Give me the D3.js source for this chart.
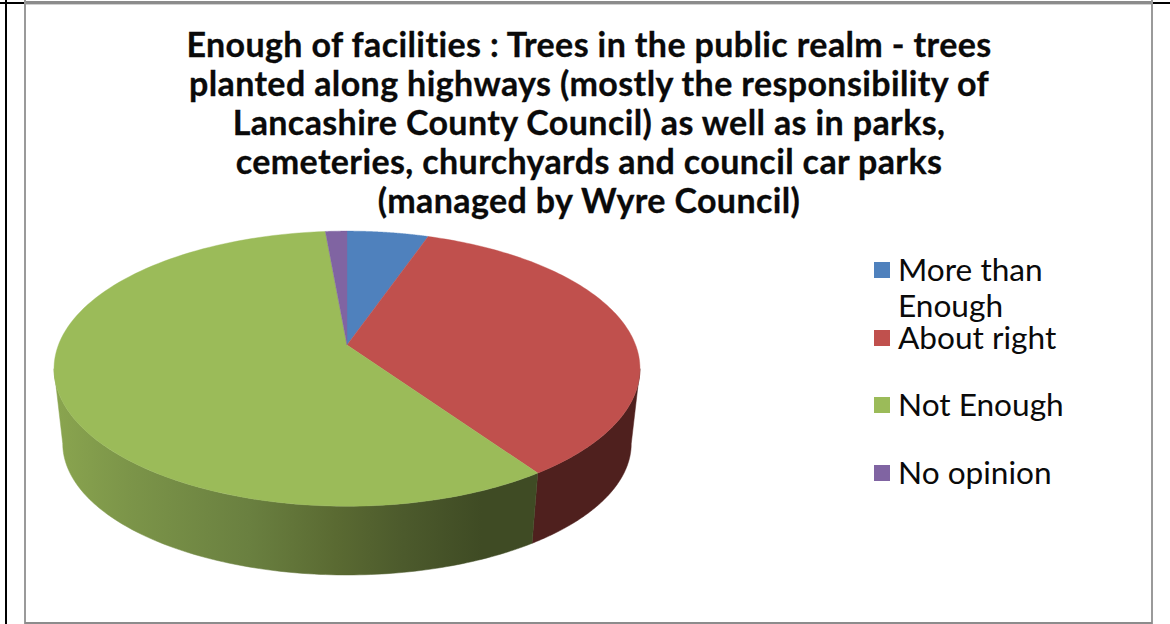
<!DOCTYPE html>
<html><head><meta charset="utf-8">
<script src="https://cdn.jsdelivr.net/npm/d3@7"></script>
<style>html,body{margin:0;padding:0;background:#fff;overflow:hidden}svg{display:block}
.t{font-family:"Lato",sans-serif;font-weight:700;font-size:34px;letter-spacing:.38px;fill:#0a0a0a;text-anchor:middle;stroke:#0a0a0a;stroke-width:.3px}
.l{font-family:"Lato",sans-serif;font-size:31.6px;fill:#0a0a0a}</style></head><body>
<svg id="c" width="1170" height="624"></svg>
<script>
const categories=["More than Enough","About right","Not Enough","No opinion"];
const legendLines=[["More than","Enough"],["About right"],["Not Enough"],["No opinion"]];
const seriesValues=[5.3,35.1,58.2,1.4];
const colors=["#4f81bd","#c0504d","#9bbb59","#8064a2"];
const titleLines=["Enough of facilities : Trees in the public realm - trees","planted along highways (mostly the responsibility of","Lancashire County Council) as well as in parks,","cemeteries, churchyards and council car parks","(managed by Wyre Council)"];
const legendY=[270,338,405,473];

const svg=d3.select("#c");
const defs=svg.append("defs");
const grad=defs.append("linearGradient").attr("id","gw").attr("gradientUnits","userSpaceOnUse").attr("x1",54).attr("x2",540).attr("y1",0).attr("y2",0);
[[0,"#8aa54f"],[0.15,"#7c9549"],[0.4,"#6a8040"],[0.58,"#5a6a32"],[0.72,"#4c5a2c"],[0.88,"#3f4b24"],[1,"#3f4b24"]].forEach(s=>grad.append("stop").attr("offset",s[0]).attr("stop-color",s[1]));

const k=0.172;
const pie=d3.pie().sort(null).startAngle(0).endAngle(2*Math.PI)(seriesValues);
function proj(a,cx,cy,R,A){const u=Math.sin(a),v=-Math.cos(a),w=1-k*v;return [cx+R*u/w,cy+A*v/w];}
const topRim=a=>proj(a,347,345,288.6,133.5), botRim=a=>proj(a,347,421,280,127.5);
const line=d3.line();
const samples=(a0,a1)=>d3.range(0,121).map(i=>a0+(a1-a0)*i/120);
const aStart=Math.PI/2+Math.asin(k), aEnd=3*Math.PI/2-Math.asin(k);

// side walls
pie.forEach((d,i)=>{
  const a0=Math.max(d.startAngle,aStart),a1=Math.min(d.endAngle,aEnd);
  if(a1<=a0)return;
  const s=samples(a0,a1);
  const pts=s.map(topRim).concat(s.slice().reverse().map(botRim));
  const c=i===2?"url(#gw)":"#4f201e";
  svg.append("path").attr("d",line(pts)+"Z").attr("fill",c).attr("stroke",c).attr("stroke-width",.5);
});
// top faces
pie.forEach((d,i)=>{
  const pts=[[347,345]].concat(samples(d.startAngle,d.endAngle).map(topRim));
  svg.append("path").attr("d",line(pts)+"Z").attr("fill",colors[i]).attr("stroke",colors[i]).attr("stroke-width",.4);
});

// frame
const F=(x,y,w,h,c)=>svg.append("rect").attr("x",x).attr("y",y).attr("width",w).attr("height",h).attr("fill",c);
F(0,2,25,2,"#000");F(1152,2,18,2,"#000");
F(5,0,2,624,"#000");
F(25,1,1127,3,"#8c8c8c");F(25,4,1127,1,"#d0d0d0");
F(24,0,2,624,"#9a9a9a");F(1151,0,2,624,"#9a9a9a");
F(25,622,1127,2,"#8c8c8c");

svg.selectAll(".t").data(titleLines).join("text").attr("class","t").attr("x",589).attr("y",(d,i)=>56.5+i*39.2).text(d=>d);

categories.forEach((c,i)=>{
  svg.append("rect").attr("x",874).attr("y",legendY[i]-8).attr("width",16).attr("height",16).attr("fill",colors[i]);
  legendLines[i].forEach((t,j)=>svg.append("text").attr("class","l").attr("x",898).attr("y",legendY[i]+11+j*36).text(t));
});
</script></body></html>
